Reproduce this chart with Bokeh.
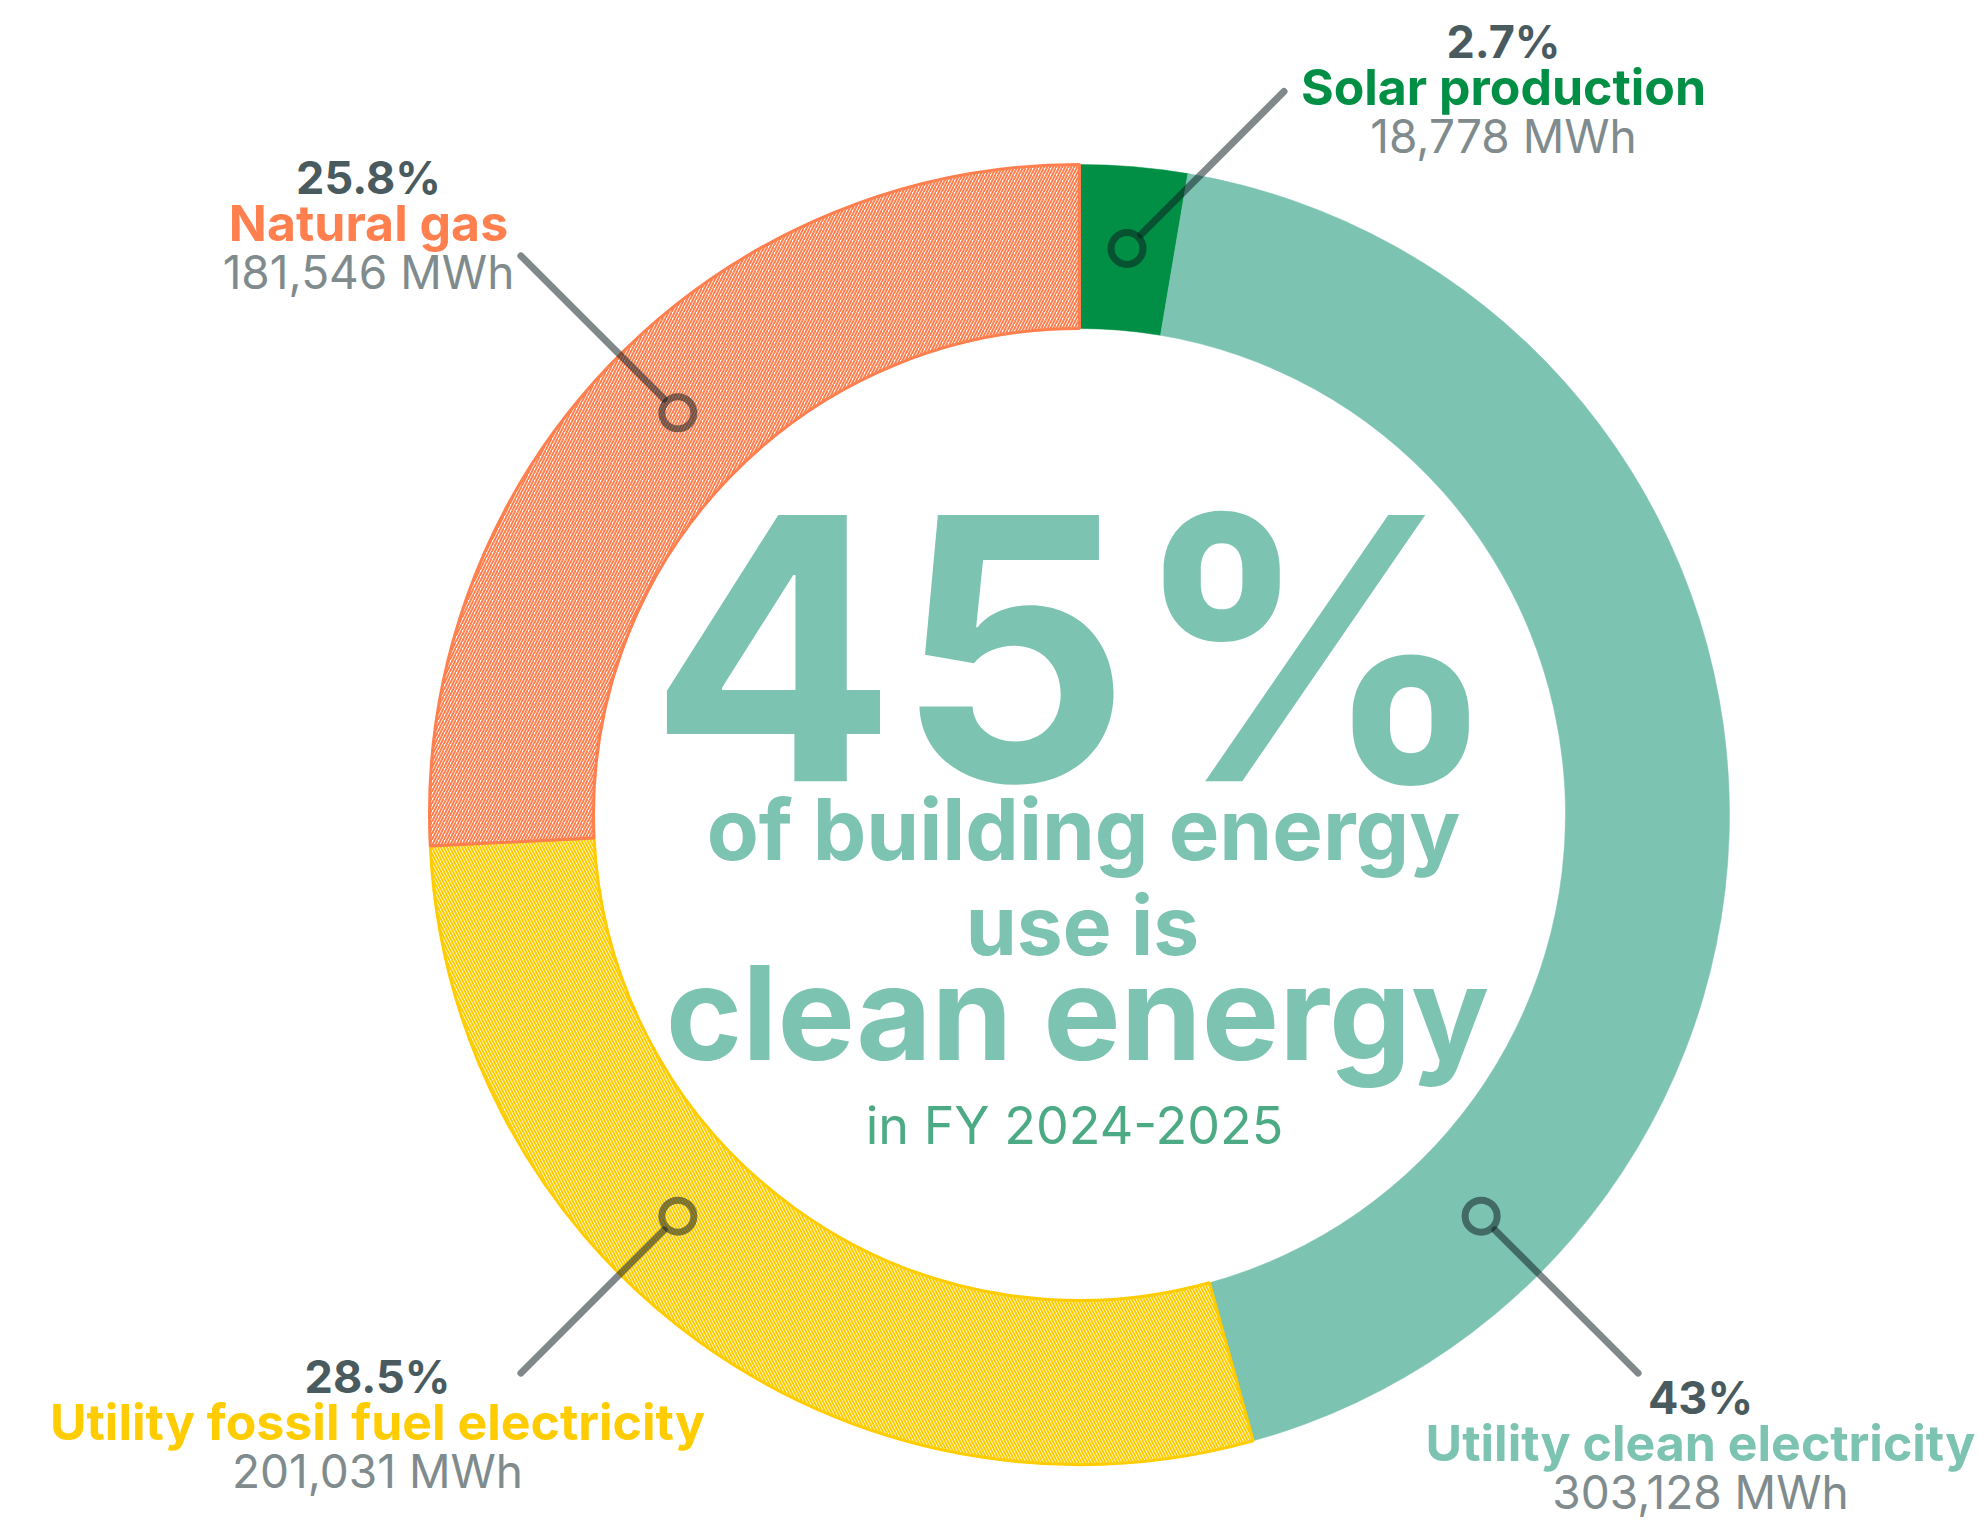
import math
from bokeh.plotting import figure
from bokeh.models import Range1d
from bokeh.core.properties import value
from bokeh.embed import file_html
from bokeh.resources import INLINE

# ---------------- data ----------------
categories = ["Solar production", "Utility clean electricity",
              "Utility fossil fuel electricity", "Natural gas"]
mwh = [18778, 303128, 201031, 181546]
pct_labels = ["2.7%", "43%", "28.5%", "25.8%"]
mwh_labels = ["18,778 MWh", "303,128 MWh", "201,031 MWh", "181,546 MWh"]
headline = "45%"
sub_lines = ["of building energy", "use is", "clean energy"]
period_label = "in FY 2024-2025"

# ---------------- style / layout ----------------
W, H = 1979, 1527
CX, CY = 1079, 814           # donut centre in page pixels
R_OUT, R_IN = 650, 486
FONT = "Inter"
BASE_FIX = 0.36              # empirical baseline correction (em)

fill_colors = ["#008f45", "#7dc3b2", "#ffffff", "#ffffff"]
seg_colors = ["#008f45", "#7dc3b2", "#ffcc00", "#ff7f4e"]
hatches = [None, None, "\\", "/"]
anchor_deg = [None, 135, 225, 315]      # clockwise from top; None = segment middle
label_pos = [(1503, 57), (1700, 1413), (377, 1392), (368, 193)]  # centre x, first baseline
LINE_GAP = 47.5
PCT_COLOR = "#4a5b60"
VAL_COLOR = "#808b8d"
LEADER_COLOR = "#0b1b1f"
LEADER_ALPHA = 0.52
TEAL = "#7dc3b2"


def px(x, y, fs=0.0):
    """page pixel -> data coordinates (centre origin, y up)"""
    return x - CX, CY - y + BASE_FIX * fs


p = figure(width=W, height=H, output_backend="svg", toolbar_location=None,
           x_range=Range1d(-CX, W - CX), y_range=Range1d(CY - H, CY),
           min_border=0)
p.axis.visible = False
p.grid.visible = False
p.outline_line_color = None
p.background_fill_color = "white"
p.border_fill_color = "white"

total = float(sum(mwh))
cum = 0.0
starts, ends = [], []
for v in mwh:
    starts.append(cum / total)
    cum += v
    ends.append(cum / total)

# ring segments
for i in range(len(mwh)):
    sa = math.pi / 2 - 2 * math.pi * starts[i]
    ea = math.pi / 2 - 2 * math.pi * ends[i]
    kw = dict(x=[0], y=[0], inner_radius=R_IN, outer_radius=R_OUT,
              start_angle=sa, end_angle=ea, direction="clock",
              fill_color=fill_colors[i])
    if hatches[i]:
        kw.update(hatch_pattern=hatches[i], hatch_color=seg_colors[i],
                  hatch_scale=6, hatch_weight=2.0,
                  line_color=seg_colors[i], line_width=3)
    else:
        kw.update(line_color=seg_colors[i], line_width=0.5)
    p.annular_wedge(**kw)

# leaders
R_MID = (R_OUT + R_IN) / 2
LEAD_LEN = 222
ax, ay, lx0, ly0, lx1, ly1 = [], [], [], [], [], []
for i in range(len(mwh)):
    if anchor_deg[i] is None:
        th = (starts[i] + ends[i]) / 2 * 360
    else:
        th = anchor_deg[i]
    t = math.radians(th)
    x = R_MID * math.sin(t)
    y = R_MID * math.cos(t)
    dx = 1 if x >= 0 else -1
    dy = 1 if y >= 0 else -1
    ux, uy = dx / math.sqrt(2), dy / math.sqrt(2)
    ax.append(x); ay.append(y)
    lx0.append(x + ux * 19.5); ly0.append(y + uy * 19.5)
    lx1.append(x + ux * LEAD_LEN); ly1.append(y + uy * LEAD_LEN)

p.segment(x0=lx0, y0=ly0, x1=lx1, y1=ly1, line_color=LEADER_COLOR,
          line_alpha=LEADER_ALPHA, line_width=7, line_cap="round")
p.scatter(x=ax, y=ay, marker="circle", size=32, fill_color=None,
          line_color=LEADER_COLOR, line_alpha=LEADER_ALPHA, line_width=7)

# labels
PCT_FS, NAME_FS, VAL_FS = 45, 50, 46
for i in range(len(mwh)):
    x0, y0 = label_pos[i]
    X, Y1 = px(x0, y0, PCT_FS)
    _, Y2 = px(x0, y0 + LINE_GAP, NAME_FS)
    _, Y3 = px(x0, y0 + 2 * LINE_GAP, VAL_FS)
    p.text(x=[X], y=[Y1], text=[pct_labels[i]], text_font=value(FONT),
           text_font_style="bold", text_font_size=value(f"{PCT_FS}px"),
           text_align="center", text_baseline="alphabetic", text_color=PCT_COLOR)
    p.text(x=[X], y=[Y2], text=[categories[i]], text_font=value(FONT),
           text_font_style="bold", text_font_size=value(f"{NAME_FS}px"),
           text_align="center", text_baseline="alphabetic", text_color=seg_colors[i])
    p.text(x=[X], y=[Y3], text=[mwh_labels[i]], text_font=value(FONT),
           text_font_style="normal", text_font_size=value(f"{VAL_FS}px"),
           text_align="center", text_baseline="alphabetic", text_color=VAL_COLOR)

# centre text
centre = [
    (headline, 1075, 779, 366, "bold", TEAL),
    (sub_lines[0], 1083, 860, 85, "bold", TEAL),
    (sub_lines[1], 1082, 955, 82, "bold", TEAL),
    (sub_lines[2], 1077, 1059, 130, "bold", TEAL),
    (period_label, 1074, 1144, 52, "normal", "#4caa85"),
]
for txt, x0, y0, fs, st, col in centre:
    X, Y = px(x0, y0, fs)
    p.text(x=[X], y=[Y], text=[txt], text_font=value(FONT), text_font_style=st,
           text_font_size=value(f"{fs}px"), text_align="center",
           text_baseline="alphabetic", text_color=col)

open("out.html", "w").write(file_html(p, INLINE))
